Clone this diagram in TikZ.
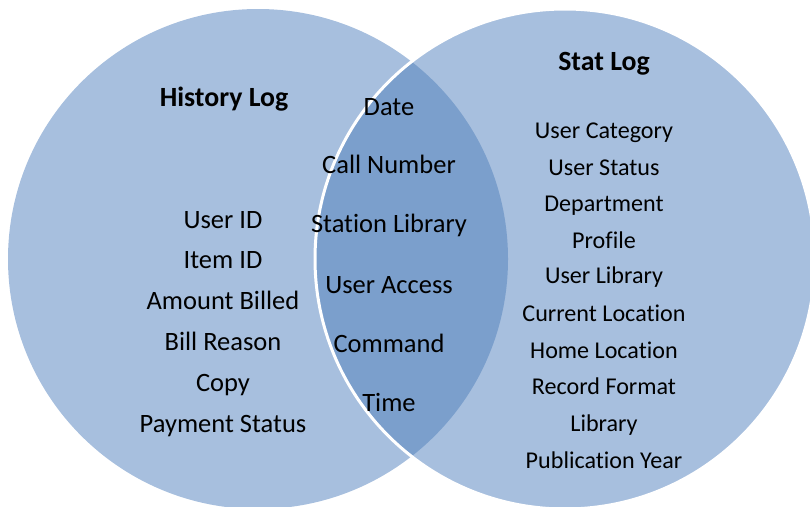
\documentclass[tikz,border=0pt]{standalone}
\usepackage{fontspec}
\setmainfont{Carlito}[Ligatures=NoCommon]
\definecolor{setfill}{RGB}{167,191,222}
\definecolor{overlapfill}{RGB}{123,159,204}

\begin{document}
\begin{tikzpicture}[
    x=1pt, y=-1pt,
    title/.style={anchor=base, inner sep=0pt, font=\fontsize{27.8}{32}\selectfont\bfseries},
    field/.style={anchor=base, inner sep=0pt, font=\fontsize{26.5}{30}\selectfont},
    statfield/.style={anchor=base, inner sep=0pt, font=\fontsize{24.1}{28}\selectfont},
]
\useasboundingbox (0,0) rectangle (810,506);

% The two sets
\coordinate (histc) at (258,259);
\coordinate (statc) at (565,259);
\fill[setfill] (histc) circle[radius=250pt];
\fill[setfill] (statc) circle[radius=250pt];

% Shared part
\begin{scope}
    \clip (histc) circle[radius=250pt];
    \fill[overlapfill] (statc) circle[radius=250pt];
\end{scope}
\draw[white, line width=3pt] (statc) circle[radius=250pt];

% History Log
\node[title] (histtitle) at (224,106) {History Log};
\node[field] (userid) at (223,228) {User ID};
\node[field] (itemid) at (223,268) {Item ID};
\node[field] (amount) at (223,309) {Amount Billed};
\node[field] (reason) at (223,350) {Bill Reason};
\node[field] (copy) at (223,391) {Copy};
\node[field] (payment) at (223,432) {Payment Status};

% Fields in both logs
\node[field] (date) at (389,115) {Date};
\node[field] (callnum) at (389,173) {Call Number};
\node[field] (station) at (389,232) {Station Library};
\node[field] (access) at (389,293) {User Access};
\node[field] (command) at (389,352) {Command};
\node[field] (time) at (389,411) {Time};

% Stat Log
\node[title] (stattitle) at (604,70) {Stat Log};
\node[statfield] (category) at (604,138) {User Category};
\node[statfield] (status) at (604,175) {User Status};
\node[statfield] (dept) at (604,211) {Department};
\node[statfield] (profile) at (604,248) {Profile};
\node[statfield] (userlib) at (604,283) {User Library};
\node[statfield] (curloc) at (604,321) {Current Location};
\node[statfield] (homeloc) at (604,358) {Home Location};
\node[statfield] (format) at (604,394) {Record Format};
\node[statfield] (library) at (604,431) {Library};
\node[statfield] (pubyear) at (604,468) {Publication Year};

\end{tikzpicture}
\end{document}
